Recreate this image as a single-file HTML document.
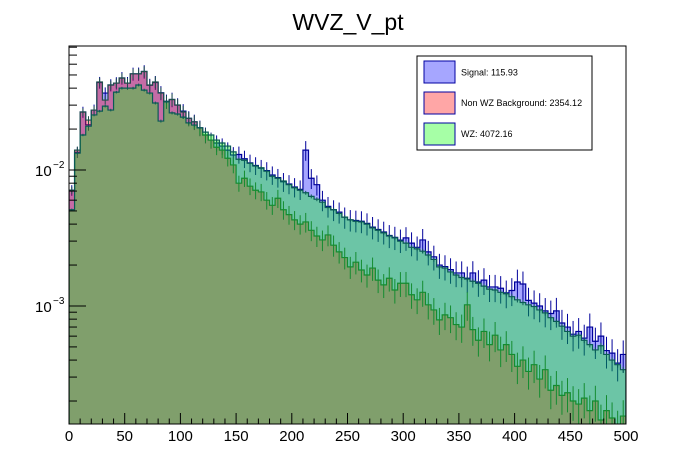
<!DOCTYPE html>
<html><head><meta charset="utf-8"><style>
html,body{margin:0;padding:0;background:#fff;}
svg{display:block;font-family:"Liberation Sans",Arial,sans-serif;}
</style></head><body>
<svg id="chart" width="696" height="472" viewBox="0 0 696 472" xmlns="http://www.w3.org/2000/svg">
<text x="348" y="30" text-anchor="middle" font-size="23">WVZ_V_pt</text>
<defs><clipPath id="pc"><rect x="69" y="46" width="557" height="378"/></clipPath></defs>
<g id="plot" clip-path="url(#pc)"></g>
<g id="axes"></g>
<g id="legend">
<rect x="417" y="56" width="175" height="94" fill="#fff" stroke="#000" stroke-width="1"/>
<g><rect x="424" y="61" width="31" height="22" fill="#a6a6ff" stroke="#0000a0" stroke-width="1"/><text x="461" y="75.5" font-size="9">Signal: 115.93</text></g>
<g><rect x="424" y="92" width="31" height="22" fill="#ffa6a6" stroke="#0000a0" stroke-width="1"/><text x="461" y="106" font-size="9">Non WZ Background: 2354.12</text></g>
<g><rect x="424" y="123" width="31" height="22" fill="#a6ffa6" stroke="#0000a0" stroke-width="1"/><text x="461" y="137" font-size="9">WZ: 4072.16</text></g>
</g>
</svg>
<script>
const binEdgesMin = 0, binEdgesMax = 500, nBins = 100;
const xTicks = [0,50,100,150,200,250,300,350,400,450,500];
const yTickDecades = [-3,-2];
const signalValues = [7.1e-3,13.5e-3,26.7e-3,21.5e-3,27.6e-3,44e-3,36.8e-3,42.2e-3,43.6e-3,47.5e-3,
43.6e-3,51e-3,51e-3,53e-3,42e-3,44e-3,37e-3,32e-3,33e-3,30e-3,
27.1e-3,24e-3,22.6e-3,20.4e-3,18.1e-3,16.6e-3,15.8e-3,15e-3,14e-3,12.9e-3,
13.0e-3,12.1e-3,11.3e-3,10.8e-3,10.3e-3,9.9e-3,9.2e-3,8.8e-3,8.2e-3,7.9e-3,
7.5e-3,7.2e-3,14.0e-3,8.7e-3,7.8e-3,6.0e-3,5.4e-3,5.1e-3,4.9e-3,4.5e-3,
4.3e-3,4.25e-3,4.2e-3,4.05e-3,3.8e-3,3.65e-3,3.5e-3,3.3e-3,3.2e-3,3.05e-3,
3.17e-3,2.9e-3,2.7e-3,3.06e-3,2.5e-3,2.3e-3,2.0e-3,1.95e-3,1.85e-3,1.75e-3,
1.75e-3,1.6e-3,1.75e-3,1.5e-3,1.55e-3,1.38e-3,1.38e-3,1.35e-3,1.25e-3,1.3e-3,
1.5e-3,1.45e-3,1.1e-3,1.05e-3,1.0e-3,0.92e-3,0.88e-3,0.92e-3,0.75e-3,0.7e-3,
0.62e-3,0.65e-3,0.58e-3,0.7e-3,0.55e-3,0.6e-3,0.47e-3,0.45e-3,0.38e-3,0.44e-3];
const nonWzValues = [7.1e-3,14.0e-3,26.7e-3,23.3e-3,27.6e-3,44.4e-3,32.7e-3,42.2e-3,43.6e-3,47.5e-3,
43.6e-3,51e-3,51e-3,53e-3,42.2e-3,44.4e-3,36.8e-3,32e-3,33e-3,30.1e-3,
26.7e-3,24e-3,22.6e-3,20.4e-3,18.1e-3,16.6e-3,14.7e-3,14e-3,12.2e-3,10.9e-3,
8.0e-3,8.7e-3,7.6e-3,7.1e-3,6.9e-3,6.0e-3,5.5e-3,6.2e-3,5.1e-3,4.7e-3,
4.3e-3,4.0e-3,4.15e-3,3.6e-3,3.27e-3,3.06e-3,3.33e-3,2.8e-3,2.5e-3,2.27e-3,
1.94e-3,2.1e-3,1.84e-3,1.69e-3,1.9e-3,1.55e-3,1.43e-3,1.6e-3,1.31e-3,1.47e-3,
1.47e-3,1.21e-3,1.11e-3,1.26e-3,1.02e-3,0.935e-3,0.79e-3,0.86e-3,0.82e-3,0.73e-3,
0.7e-3,1.02e-3,0.67e-3,0.56e-3,0.65e-3,0.52e-3,0.61e-3,0.475e-3,0.52e-3,0.44e-3,
0.36e-3,0.4e-3,0.33e-3,0.37e-3,0.29e-3,0.34e-3,0.24e-3,0.26e-3,0.22e-3,0.23e-3,
0.2e-3,0.19e-3,0.21e-3,0.17e-3,0.2e-3,0.145e-3,0.17e-3,0.15e-3,0.13e-3,0.155e-3];
const wzValues = [5.1e-3,13.3e-3,18.1e-3,21.0e-3,25.4e-3,27.1e-3,29.5e-3,27.6e-3,37.4e-3,40.0e-3,
40.0e-3,40.0e-3,42.2e-3,38.7e-3,36.8e-3,31.1e-3,22.9e-3,31.7e-3,26.3e-3,25.8e-3,
24.5e-3,22.2e-3,21.4e-3,20.4e-3,19.0e-3,18.1e-3,16.6e-3,15.8e-3,15.0e-3,13.6e-3,
12.0e-3,11.8e-3,11.2e-3,10.7e-3,10.4e-3,9.8e-3,9.0e-3,8.7e-3,8.3e-3,7.8e-3,
7.4e-3,7.1e-3,6.8e-3,6.4e-3,6.1e-3,5.8e-3,5.3e-3,5.1e-3,4.8e-3,4.5e-3,
4.3e-3,4.2e-3,4.15e-3,4.0e-3,3.75e-3,3.6e-3,3.45e-3,3.27e-3,3.17e-3,3.0e-3,
2.9e-3,2.7e-3,2.63e-3,2.53e-3,2.37e-3,2.2e-3,1.94e-3,1.9e-3,1.78e-3,1.69e-3,
1.62e-3,1.58e-3,1.52e-3,1.47e-3,1.4e-3,1.33e-3,1.31e-3,1.26e-3,1.23e-3,1.17e-3,
1.11e-3,1.06e-3,1.02e-3,0.99e-3,0.935e-3,0.89e-3,0.82e-3,0.77e-3,0.71e-3,0.65e-3,
0.6e-3,0.61e-3,0.56e-3,0.52e-3,0.475e-3,0.51e-3,0.44e-3,0.4e-3,0.37e-3,0.34e-3];

const NS='http://www.w3.org/2000/svg';
const X0=69,X1=626,Y0=46,Y1=424;
const LOGTOP=-1.088, LOGBOT=-3.868;
function xScale(v){return X0+(v-binEdgesMin)/(binEdgesMax-binEdgesMin)*(X1-X0);}
function yScale(v){if(v<=0)return Y1+10;return Y0+(LOGTOP-Math.log10(v))/(LOGTOP-LOGBOT)*(Y1-Y0);}
function mk(tag,attrs,parent){const e=document.createElementNS(NS,tag);for(const k in attrs)e.setAttribute(k,attrs[k]);parent.appendChild(e);return e;}
const plot=document.getElementById('plot'), axes=document.getElementById('axes');
const bw=(binEdgesMax-binEdgesMin)/nBins;
function drawHist(vals,fill,stroke,name,errBase,errSlope){
  let d='M'+xScale(0)+','+(Y1+5);
  vals.forEach((v,i)=>{const y=yScale(v);d+=' L'+xScale(i*bw)+','+y+' L'+xScale((i+1)*bw)+','+y;});
  d+=' L'+xScale(binEdgesMax)+','+(Y1+5)+' Z';
  const p=mk('path',{d:d,fill:fill,'fill-opacity':0.35,stroke:stroke,'stroke-width':1.2},plot);
  
  
  const g=mk('g',{stroke:stroke,'stroke-width':1},plot);
  
  
  vals.forEach((v,i)=>{const r=errBase+i*errSlope;const xc=xScale((i+0.5)*bw);
    mk('line',{x1:xc,x2:xc,y1:yScale(v*(1+r)),y2:yScale(v*(1-r))},g);});
}
drawHist(signalValues,'#0000ff','#00009a','signal-histogram',0.09,0.0018);
drawHist(nonWzValues,'#ff0000','#1f4f4a','non-wz-histogram',0.06,0.0025);
drawHist(wzValues,'#00ff00','#0a5a55','wz-histogram',0.02,0.0003);

mk('rect',{x:X0,y:Y0,width:X1-X0,height:Y1-Y0,fill:'none',stroke:'#000','stroke-width':1},axes);
for(let v=0;v<=500;v+=10){const x=xScale(v);const major=v%50===0;
  mk('line',{x1:x,x2:x,y1:Y1,y2:Y1-(major?11:5.5),stroke:'#000','stroke-width':1},axes);}
xTicks.forEach(v=>{const t=mk('text',{x:xScale(v),y:441,'text-anchor':'middle','font-size':15},axes);t.textContent=v;
  
  });
for(let e=-4;e<=-1;e++){for(let m=1;m<=9;m++){const v=m*Math.pow(10,e);const y=yScale(v);if(y<Y0||y>Y1)continue;
  mk('line',{x1:X0,x2:X0+(m===1?17:8),y1:y,y2:y,stroke:'#000','stroke-width':1},axes);}}
yTickDecades.forEach(e=>{const y=yScale(Math.pow(10,e));
  const t=mk('text',{x:35,y:y+6,'font-size':15},axes);t.textContent='10';
  
  
  const s=mk('text',{x:53,y:y-2,'font-size':10},axes);s.textContent='\u2212'+(-e);
  
  });
</script>
</body></html>
